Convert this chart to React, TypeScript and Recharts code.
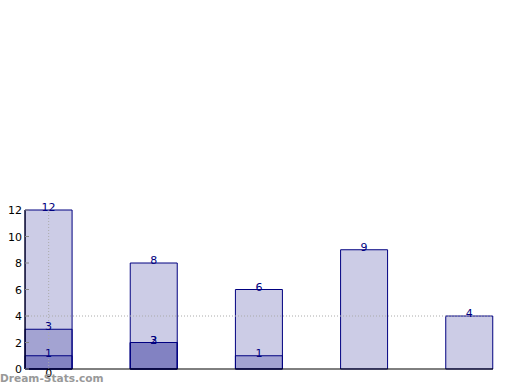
import { ComposedChart, Bar, XAxis, YAxis, ReferenceLine } from 'recharts';

const categories = [0, 1, 2, 3, 4];
const seriesA = [12, 8, 6, 9, 4];
const seriesB = [3, 2, 1, null, null];
const seriesC = [1, 2, null, null, null];
const labelsA = ['12', '8', '6', '9', '4'];
const labelsB = ['3', '3', '1', '', ''];
const labelsC = ['1', '2', '', '', ''];
const yTicks = [0, 2, 4, 6, 8, 10, 12];

const data = categories.map((x, i) => ({ x, a: seriesA[i], b: seriesB[i], c: seriesC[i] }));

const NAVY = '#000080';
const FONT = '"DejaVu Sans", sans-serif';

const mkLabel = (texts: string[]) => (p: any) => {
  if (p.value == null) return null;
  return (
    <text x={p.x + p.width / 2} y={p.y + 1} textAnchor="middle" fontSize={11} fill={NAVY} fontFamily={FONT}>
      {texts[p.index]}
    </text>
  );
};

const LeftTick = (p: any) => (
  <g>
    <line x1={p.x} x2={p.x + 4} y1={p.y} y2={p.y} stroke="#888" />
    <text x={p.x - 3} y={p.y + 4} textAnchor="end" fontSize={11} fill="#000" fontFamily={FONT}>
      {p.payload.value}
    </text>
  </g>
);

const RightTick = (p: any) => (
  <line x1={p.x - 4} x2={p.x} y1={p.y} y2={p.y} stroke="#888" />
);

export default function App() {
  return (
    <div style={{ position: 'absolute', left: 0, top: 0, width: 520, height: 390, background: '#fff' }}>
      <ComposedChart width={520} height={390} data={data}
        margin={{ top: 210, right: 27, bottom: 0, left: 0 }} barGap={-47}>
        <XAxis dataKey="x" type="number" domain={[-0.225, 4.225]} ticks={[0]} height={21}
          axisLine={{ stroke: '#000' }} tickLine={false} tickSize={0} tickMargin={0}
          tick={{ fontSize: 11, fill: '#000', fontFamily: FONT }} />
        <XAxis xAxisId="top" orientation="top" dataKey="x" type="number" domain={[-0.225, 4.225]}
          height={0} tick={false} tickLine={false} axisLine={{ stroke: '#000' }} />
        <YAxis domain={[0, 12]} ticks={yTicks} width={25} axisLine={{ stroke: '#000' }}
          tickLine={false} tickSize={0} tickMargin={0} tick={<LeftTick />} />
        <YAxis yAxisId="right" orientation="right" domain={[0, 12]} ticks={yTicks} width={0}
          axisLine={{ stroke: '#000' }} tickLine={false} tickSize={0} tickMargin={0} tick={<RightTick />} />
        <ReferenceLine y={4} stroke="#aaa" strokeDasharray="1 2" />
        <ReferenceLine x={0} stroke="#aaa" strokeDasharray="1 2" />
        <Bar dataKey="a" barSize={47} fill={NAVY} fillOpacity={0.2} stroke={NAVY} strokeWidth={1}
          isAnimationActive={false} label={mkLabel(labelsA)} />
        <Bar dataKey="b" barSize={47} fill={NAVY} fillOpacity={0.2} stroke={NAVY} strokeWidth={1}
          isAnimationActive={false} label={mkLabel(labelsB)} />
        <Bar dataKey="c" barSize={47} fill={NAVY} fillOpacity={0.2} stroke={NAVY} strokeWidth={1}
          isAnimationActive={false} label={mkLabel(labelsC)} />
      </ComposedChart>
      <div style={{ position: 'absolute', left: 0, top: 372, fontFamily: FONT, fontWeight: 'bold',
        fontSize: 10.6, color: '#999' }}>Dream-Stats.com</div>
    </div>
  );
}
